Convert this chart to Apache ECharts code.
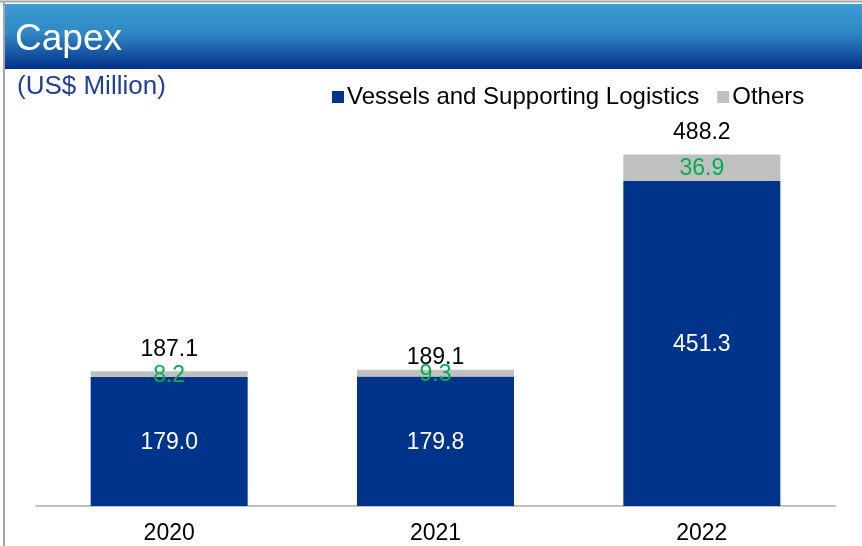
<!DOCTYPE html>
<html>
<head>
<meta charset="utf-8">
<script src="https://cdn.jsdelivr.net/npm/echarts@6/dist/echarts.min.js"></script>
<style>
  html, body { margin: 0; padding: 0; background: #ffffff; }
  #chart { width: 862px; height: 546px; }
</style>
</head>
<body>
<div id="chart"></div>
<script>
// Capex by year, US$ million
const years = ['2020', '2021', '2022'];
const vessels = [179.0, 179.8, 451.3];
const others = [8.2, 9.3, 36.9];
const totals = [187.1, 189.1, 488.2];

const FONT = 'Liberation Sans, Arial, sans-serif';
const NAVY = '#00338a';
const GREY = '#c0c0c0';

const chart = echarts.init(document.getElementById('chart'), null, { renderer: 'canvas' });

chart.setOption({
  animation: false,
  backgroundColor: '#ffffff',
  textStyle: { fontFamily: FONT },
  graphic: [
    // header band
    {
      type: 'rect', left: 5, top: 4, z: 0,
      shape: { width: 857, height: 65 },
      style: {
        fill: new echarts.graphic.LinearGradient(0, 0, 0, 1, [
          { offset: 0, color: '#3b9cd4' },
          { offset: 0.45, color: '#3088c4' },
          { offset: 1, color: '#03308a' }
        ])
      }
    },
    // frame lines
    { type: 'line', z: 1, shape: { x1: 0, y1: 1.5, x2: 862, y2: 1.5 }, style: { stroke: '#a6a6a6', lineWidth: 2 } },
    { type: 'line', z: 1, shape: { x1: 4, y1: 1, x2: 4, y2: 546 }, style: { stroke: '#a6a6a6', lineWidth: 2 } },
    {
      type: 'text', left: 15, top: 21, z: 2,
      style: { text: 'Capex', fill: '#ffffff', font: '37px ' + FONT }
    },
    {
      type: 'text', left: 17, top: 74, z: 2,
      style: { text: '(US$ Million)', fill: '#1f3f9a', font: '26px ' + FONT }
    }
  ],
  legend: {
    data: ['Vessels and Supporting Logistics', 'Others'],
    left: 327, top: 80,
    icon: 'rect', itemWidth: 12, itemHeight: 12, itemGap: 18,
    textStyle: { fontSize: 24, color: '#000000', fontFamily: FONT, padding: [0, 0, 0, -2] }
  },
  grid: { left: 36, right: 27, top: 146, bottom: 40 },
  xAxis: {
    type: 'category',
    data: years,
    axisLine: { show: true, lineStyle: { color: GREY, width: 2 } },
    axisTick: { show: false },
    axisLabel: { fontSize: 23, color: '#000000', margin: 16, fontFamily: FONT }
  },
  yAxis: {
    type: 'value', min: 0, max: 500, show: false,
    splitLine: { show: false }
  },
  series: [
    {
      name: 'Vessels and Supporting Logistics',
      type: 'bar', stack: 'capex', barWidth: 157,
      itemStyle: { color: NAVY },
      label: {
        show: true, position: 'inside', offset: [0, 1], color: '#ffffff', fontSize: 23, fontFamily: FONT,
        formatter: p => p.value.toFixed(1)
      },
      data: vessels
    },
    {
      name: 'Others',
      type: 'bar', stack: 'capex', barWidth: 157,
      itemStyle: { color: GREY },
      label: {
        show: true, position: 'inside', offset: [0, 1], color: '#00b050', fontSize: 23, fontFamily: FONT,
        formatter: p => p.value.toFixed(1)
      },
      data: others
    },
    {
      name: 'Total',
      type: 'scatter',
      symbolSize: 0,
      itemStyle: { color: '#000000', opacity: 1 },
      label: {
        show: true, position: 'top', distance: 10, color: '#000000', fontSize: 23, fontFamily: FONT,
        formatter: p => p.value.toFixed(1)
      },
      data: totals.map((v, i) => i === 1 ? { value: v, label: { offset: [0, 9] } } : v),
      z: 5
    }
  ]
});
</script>
</body>
</html>
